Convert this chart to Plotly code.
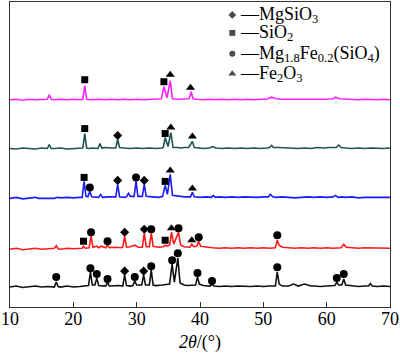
import plotly.graph_objects as go

# ---------------- data (2θ in degrees, intensity in arbitrary offset units) ----------------
black_x = [10, 11, 12, 13, 14, 15, 16, 17, 17.3, 17.6, 18, 19, 20, 21, 22, 22.4, 22.7, 23.0, 23.4, 23.7,
           24.0, 24.5, 25.1, 25.4, 25.7, 26, 27, 27.8, 28.1, 28.4, 29, 29.4, 29.7, 30.0, 30.8, 31.1, 31.4,
           32.0, 32.3, 32.6, 33, 34, 35.2, 35.6, 35.95, 36.5, 36.85, 37.5, 38, 39.3, 39.6, 39.9, 40.5,
           41.6, 41.9, 42.2, 43, 44, 45, 46, 47, 48, 49, 50, 51, 51.9, 52.2, 52.5, 53, 54, 54.8, 55.5,
           56.5, 57.5, 58, 59, 60, 61.3, 61.6, 61.9, 62.4, 62.7, 63.0, 64, 65, 66, 66.6, 66.9, 67.2, 68,
           69, 70]
black_y = [20, 21, 19.5, 20.5, 21, 20, 20.5, 20, 25, 20.5, 20, 21, 20, 20.5, 21, 21.5, 35, 22, 22, 29,
           21.5, 21, 21, 24.5, 21, 21, 21.5, 21, 32, 21.5, 21, 21.5, 26, 22, 22, 32, 22,
           22, 37, 22, 21.5, 22, 23, 43, 25, 49, 24, 22, 21.5, 22, 30, 23, 21.5,
           21, 23, 21, 20.5, 21, 20.5, 21, 20.5, 20.5, 21, 20.5, 21, 21, 35, 23, 21, 21, 23, 21,
           23, 21, 21, 20.5, 21, 21.5, 25, 22, 22, 28, 22, 21, 20.5, 21, 21, 23.5, 21, 20.5,
           21, 20.5]

red_x = [10, 11, 12, 13, 14, 15, 16, 17, 17.3, 17.6, 18, 19, 20, 21, 21.4, 21.6, 21.9, 22.5, 22.8, 23.1,
         23.7, 24, 24.4, 25.1, 25.4, 25.7, 26.5, 27.5, 27.8, 28.1, 28.4, 29, 29.7, 30.3, 30.9, 31.2, 31.5,
         32.0, 32.3, 32.6, 33.5, 34.2, 34.5, 34.8, 35.2, 35.5, 35.85, 36.6, 36.95, 37.5, 38.4, 38.7, 39.0,
         39.5, 39.8, 40.1, 41, 42, 43, 44, 45, 46, 47, 48, 49, 50, 51, 51.9, 52.2, 52.5, 53, 54, 55, 56,
         57, 58, 59, 60, 61, 62.3, 62.7, 63.1, 64, 65, 66, 67, 68, 69, 70]
red_y = [58, 59, 57.5, 58.5, 59, 58, 58.5, 59, 61.5, 58.5, 58, 59, 58.5, 59, 59, 61, 59, 59.5, 71, 60,
         61, 59.5, 61, 59.5, 62, 59.5, 60, 59.5, 60, 71, 60, 60.5, 62, 60, 60, 74, 60.5,
         60.5, 74, 61, 60, 60.5, 62, 61, 62, 75, 63, 75, 62, 60.5, 60, 63, 60.5,
         61, 66, 61, 60, 59.5, 59, 59.5, 59, 59.5, 59, 59.5, 59, 59.5, 59, 59.5, 67, 62, 60, 59.5, 59, 59.5,
         59, 59.5, 59, 59.5, 59, 59.5, 63, 60, 59.5, 59, 59.5, 59.5, 59, 59.5, 59]

blue_x = [10, 11, 12, 13, 14, 14.5, 17, 17.5, 18, 19, 20, 21, 21.4, 21.7, 22.0, 22.3, 22.6, 22.9, 23.5,
          24.0, 24.3, 24.6, 25.5, 26.5, 26.7, 27.0, 27.3, 28.0, 28.4, 28.7, 29.0, 29.6, 29.9, 30.2, 30.9,
          31.2, 31.5, 32.5, 33.5, 34.1, 34.5, 34.85, 35.3, 35.65, 36.5, 37.5, 38.5, 38.8, 39.1, 40, 41,
          41.8, 42.1, 42.4, 43, 44, 45, 46, 47, 48, 49, 50, 50.8, 51.1, 51.5, 52, 53, 54, 55, 56, 57, 58,
          59, 60, 61, 61.4, 61.8, 62.5, 63, 64, 65, 66, 67, 68, 69, 70]
blue_y = [109, 110, 108.5, 109.5, 110, 109, 109, 110, 109.5, 110, 109.5, 110, 110, 126, 111, 110.5, 116, 110.5, 110,
          110, 113, 110, 110.5, 110, 110.5, 123, 110.5, 110, 110.5, 114, 111, 111, 126, 111, 111,
          123, 111, 110.5, 110, 111, 122, 113, 133, 112, 111, 110.5, 110.5, 115, 110.5, 110, 110.5,
          110, 112, 110, 110.5, 110, 110.5, 110, 110.5, 110, 110, 110.5, 110.5, 113, 110.5, 110, 110.5, 110, 109.5, 110, 110.5, 110,
          110.5, 110, 110.5, 112, 110, 110.5, 110, 110.5, 109.5, 110, 110, 109.5, 110, 110]

teal_x = [10, 11, 12, 13, 14, 15, 15.9, 16.2, 16.5, 17, 18, 19, 20, 21, 21.5, 21.8, 22.1, 22.5, 23, 23.9,
          24.2, 24.5, 25, 26, 26.7, 27.0, 27.3, 28, 29, 30, 31, 32, 33, 34, 34.2, 34.5, 34.95, 35.4, 35.75,
          36.5, 37, 37.5, 38.2, 38.5, 38.8, 39.1, 39.8, 40.5, 41.5, 42, 42.5, 43.5, 44.5, 45.5, 46.5, 47.5,
          48.5, 49.5, 50.5, 51.0, 51.3, 51.6, 52.5, 53.5, 54.5, 55.5, 56.5, 57.5, 58.5, 59.5, 60.5, 61.5,
          61.9, 62.3, 63, 64, 65, 66, 67, 68, 69, 70]
teal_y = [159, 158.5, 159.5, 159, 158.5, 159.5, 159, 163, 159, 159, 159.5, 158.5, 159, 159.5, 159.5, 174, 159.5, 159, 159.5, 159,
          164, 159.5, 160, 159.5, 159.5, 168, 160, 159.5, 159, 159.5, 159, 159.5, 159, 159.5, 160, 170, 161, 175, 160,
          160, 159.5, 160, 160, 163, 166, 160, 159.5, 159, 159.5, 161, 159.5, 159, 159.5, 159, 159.5, 159,
          159.5, 159, 159.5, 160, 162, 160, 160, 159.5, 159.5, 159, 159.5, 159, 160, 159.5, 160, 160,
          162.5, 160, 159.5, 159, 159.5, 159, 159.5, 159, 159, 159.5]

magenta_x = [10, 11, 12, 13, 14, 15, 15.9, 16.2, 16.5, 17, 18, 19, 20, 21, 21.5, 21.8, 22.1, 23, 24, 25,
             26, 27, 28, 29, 30, 31, 32, 33, 33.9, 34.3, 34.8, 35.3, 35.65, 36.5, 37.5, 38.3, 38.6, 38.9,
             39.5, 40.5, 41.5, 42.5, 43.5, 44.5, 45.5, 46.5, 47.5, 48.5, 49.5, 50.5, 51.3, 52, 53, 54, 55,
             56, 57, 58, 59, 60, 61, 61.4, 62, 63, 64, 65, 66, 67, 68, 69, 70]
magenta_y = [208, 208.5, 207.5, 208.5, 208, 208.5, 208.5, 213, 208.5, 208, 208.5, 208, 208.5, 208, 208.5, 222, 208.5, 208, 208.5, 208,
             208.5, 208, 208.5, 208, 208.5, 208, 208.5, 208.5, 209, 221, 210, 227, 209, 208.5, 208.5, 209, 216, 209,
             208.5, 208, 208.5, 208, 208.5, 208, 208.5, 208, 208.5, 208, 208.5, 208.5, 210.5, 209, 208.5, 208.5, 208,
             208.5, 208, 208.5, 208, 208.5, 209, 210.5, 209, 208.5, 208.5, 208, 208.5, 208, 208, 208.5, 208]

# phase markers above peaks
mgsio3_x = [28.1, 31.1, 28.1, 31.2, 27.0, 31.2, 27.0]
mgsio3_y = [36, 36, 75, 78, 127, 127, 172]
sio2_x = [21.6, 34.5, 21.7, 34.5, 21.8, 34.5, 21.8, 34.3]
sio2_y = [66, 67, 130, 126, 179, 174, 228, 226]
olivine_x = [17.3, 22.7, 23.7, 25.4, 29.7, 32.3, 35.6, 36.5, 39.6, 41.9, 52.2, 61.6, 62.7,
             22.8, 25.4, 32.3, 36.6, 39.8, 52.2, 22.6, 29.9]
olivine_y = [30, 39, 33, 28, 30, 41, 47, 54, 34, 26, 40, 29, 33,
             75, 66, 78, 79, 70, 72, 120, 130]
fe2o3_x = [35.5, 38.7, 35.3, 38.8, 35.4, 38.8, 35.3, 38.5]
fe2o3_y = [79, 67, 137, 119, 180, 171, 233, 220]

legend_labels = ["MgSiO<sub>3</sub>", "SiO<sub>2</sub>",
                 "Mg<sub>1.8</sub>Fe<sub>0.2</sub>(SiO<sub>4</sub>)", "Fe<sub>2</sub>O<sub>3</sub>"]
legend_symbols = ["diamond", "square", "circle", "triangle-up"]
legend_y = [293, 275, 254, 234]
legend_x = 45.1

x_ticks = [10, 20, 30, 40, 50, 60, 70]

FONT = "Liberation Serif, Times New Roman, serif"

fig = go.Figure()

curves = [
    (black_x, black_y, "#111111"),
    (red_x, red_y, "#ff1a1a"),
    (blue_x, blue_y, "#1a1aff"),
    (teal_x, teal_y, "#1f5252"),
    (magenta_x, magenta_y, "#ff22ff"),
]
for cx, cy, col in curves:
    fig.add_trace(go.Scatter(x=cx, y=cy, mode="lines", line=dict(color=col, width=1.6),
                             showlegend=False, hoverinfo="skip"))

for mx, my, sym, sz in [(mgsio3_x, mgsio3_y, "diamond", 7),
                        (sio2_x, sio2_y, "square", 7),
                        (olivine_x, olivine_y, "circle", 8),
                        (fe2o3_x, fe2o3_y, "triangle-up", 8)]:
    fig.add_trace(go.Scatter(x=mx, y=my, mode="markers",
                             marker=dict(symbol=sym, size=sz, color="black", line=dict(width=0)),
                             showlegend=False, hoverinfo="skip"))

# hand-made legend
fig.add_trace(go.Scatter(x=[legend_x] * 4, y=legend_y, mode="markers",
                         marker=dict(symbol=legend_symbols, size=[6, 6, 6, 7], color="black",
                                     line=dict(width=0)),
                         showlegend=False, hoverinfo="skip"))
for lab, ly in zip(legend_labels, legend_y):
    fig.add_annotation(x=legend_x + 0.9, y=ly, xref="x", yref="y", text="\u2014" + lab,
                       showarrow=False, xanchor="left", yanchor="middle", height=18,
                       font=dict(family=FONT, size=18, color="black"))

fig.update_layout(
    width=400, height=353,
    margin=dict(l=7, r=8, t=1, b=46),
    paper_bgcolor="white", plot_bgcolor="white",
    font=dict(family=FONT, size=18, color="black"),
)
fig.update_xaxes(range=[10, 70], tickvals=x_ticks, ticks="inside", ticklen=5, tickcolor="#333",
                 showline=True, linecolor="#333", linewidth=1, mirror=True, showgrid=False,
                 zeroline=False, tickfont=dict(family=FONT, size=18),
                 ticklabeloverflow="allow", ticklabelstandoff=-5,
                 title=dict(text="<i>2θ</i>/(°)", font=dict(family=FONT, size=18), standoff=8))
fig.update_yaxes(range=[0, 306], showticklabels=False, ticks="", showline=True, linecolor="#333",
                 linewidth=1, mirror=True, showgrid=False, zeroline=False)

fig.write_html("out.html")
